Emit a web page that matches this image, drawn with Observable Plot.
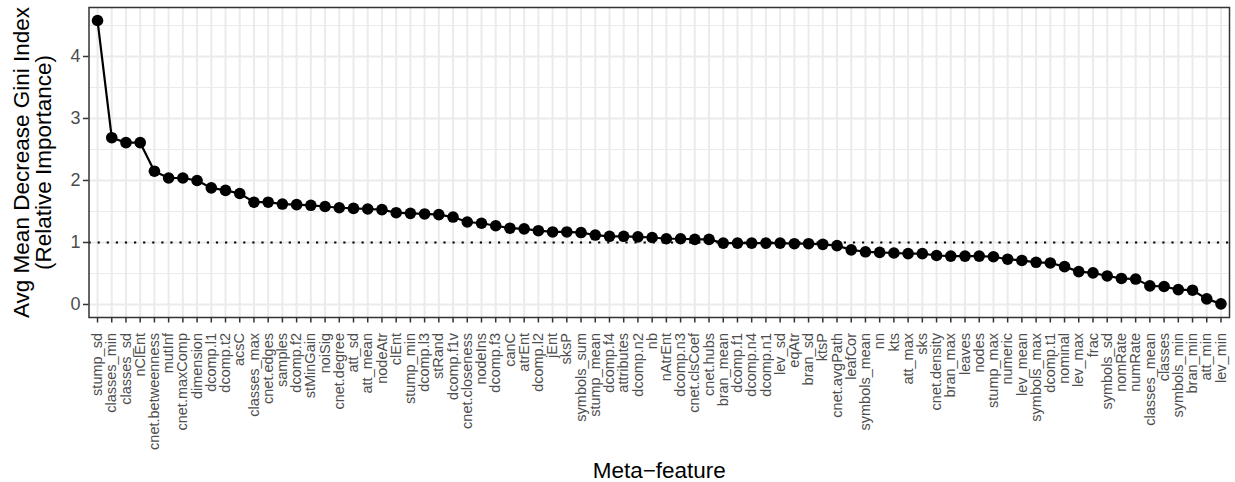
<!DOCTYPE html>
<html>
<head>
<meta charset="utf-8">
<script src="https://cdn.jsdelivr.net/npm/d3@7"></script>
<script src="https://cdn.jsdelivr.net/npm/@observablehq/plot@0.6"></script>
<style>
  html, body { margin: 0; padding: 0; background: #fff; overflow: hidden; }
  #chart svg { display: block; }
</style>
</head>
<body>
<div id="chart"></div>
<script>
const categories = [
  "stump_sd","classes_min","classes_sd","nClEnt","cnet.betweenness","mutInf","cnet.maxComp","dimension",
  "dcomp.l1","dcomp.t2","acsC","classes_max","cnet.edges","samples","dcomp.f2","stMinGain","noiSig",
  "cnet.degree","att_sd","att_mean","nodeAtr","clEnt","stump_min","dcomp.l3","stRand","dcomp.f1v",
  "cnet.closeness","nodeIns","dcomp.f3","canC","atrEnt","dcomp.l2","jEnt","sksP","symbols_sum",
  "stump_mean","dcomp.f4","attributes","dcomp.n2","nb","nAtrEnt","dcomp.n3","cnet.clsCoef","cnet.hubs",
  "bran_mean","dcomp.f1","dcomp.n4","dcomp.n1","lev_sd","eqAtr","bran_sd","ktsP","cnet.avgPath",
  "leafCor","symbols_mean","nn","kts","att_max","sks","cnet.density","bran_max","leaves","nodes",
  "stump_max","numeric","lev_mean","symbols_max","dcomp.t1","nominal","lev_max","frac","symbols_sd",
  "nomRate","numRate","classes_mean","classes","symbols_min","bran_min","att_min","lev_min"
];
const values = [
  4.58,2.69,2.61,2.61,2.15,2.04,2.04,2.00,
  1.88,1.84,1.79,1.65,1.65,1.62,1.61,1.60,1.58,
  1.56,1.55,1.54,1.53,1.48,1.47,1.46,1.45,1.41,
  1.33,1.31,1.27,1.23,1.22,1.19,1.17,1.17,1.16,
  1.12,1.10,1.10,1.09,1.08,1.06,1.06,1.05,1.05,
  0.99,0.99,0.99,0.99,0.99,0.98,0.98,0.97,0.95,
  0.88,0.85,0.84,0.83,0.82,0.82,0.79,0.78,0.78,0.78,
  0.77,0.73,0.71,0.68,0.67,0.61,0.53,0.51,0.46,
  0.42,0.41,0.30,0.29,0.24,0.23,0.09,0.01
];
const yTicks = [0, 1, 2, 3, 4];
const yMinorTicks = [0.5, 1.5, 2.5, 3.5, 4.5];
const refLine = [1];
const xTitle = "Meta\u2212feature";
const yTitle = "Avg Mean Decrease Gini Index\n(Relative Importance)";

const data = categories.map((c, i) => ({feature: c, value: values[i]}));

const chart = Plot.plot({
  width: 1235,
  height: 482,
  marginLeft: 88.5,
  marginRight: 6,
  marginTop: 7,
  marginBottom: 165,
  style: {fontFamily: "'Liberation Sans', Arial, Helvetica, sans-serif", background: "#fff"},
  x: {type: "point", domain: categories, padding: 0.6, round: false, label: null},
  y: {domain: [-0.21, 4.79], label: null},
  marks: [
    Plot.gridY(yMinorTicks, {stroke: "#EBEBEB", strokeOpacity: 1, strokeWidth: 1.1}),
    Plot.gridY(yTicks, {stroke: "#EBEBEB", strokeOpacity: 1, strokeWidth: 2}),
    Plot.gridX(categories, {stroke: "#EBEBEB", strokeOpacity: 1, strokeWidth: 2}),
    Plot.ruleY(refLine, {stroke: "#000", strokeWidth: 2.2, strokeDasharray: "2.2,6.9"}),
    Plot.line(data, {x: "feature", y: "value", stroke: "#000", strokeWidth: 2.2}),
    Plot.dot(data, {x: "feature", y: "value", fill: "#000", r: 5.8}),
    Plot.frame({stroke: "#333333", strokeWidth: 1.5}),
    Plot.axisY(yTicks, {tickSize: 5.5, tickPadding: 3, fontSize: 18, tickFormat: d => String(d), stroke: "#333333", strokeWidth: 1.5, fill: "#4D4D4D", label: null}),
    Plot.axisX(categories, {tickSize: 5.5, tickPadding: 10, tickRotate: -90, fontSize: 14.5, stroke: "#333333", strokeWidth: 1.5, fill: "#4D4D4D", label: null}),
    Plot.text([xTitle], {frameAnchor: "bottom", textAnchor: "middle", lineAnchor: "bottom", dy: 160, fontSize: 22.5, fill: "#000", text: d => d}),
    Plot.text([yTitle], {frameAnchor: "left", textAnchor: "middle", rotate: -90, dx: -56, lineAnchor: "middle", lineHeight: 0.98, fontSize: 22.5, fill: "#000", text: d => d})
  ]
});
document.getElementById("chart").appendChild(chart);
</script>
</body>
</html>
